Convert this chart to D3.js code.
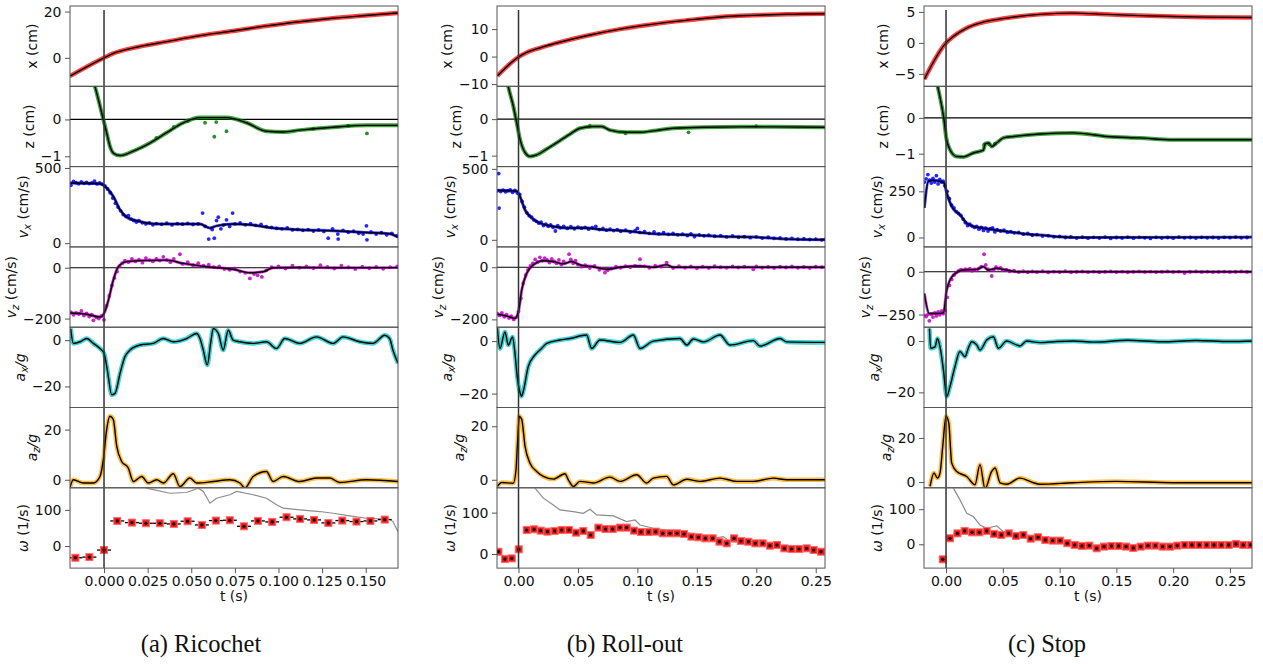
<!DOCTYPE html>
<html>
<head>
<meta charset="utf-8">
<script src="https://cdn.jsdelivr.net/npm/d3@7"></script>
<style>
  body { margin: 0; background: #fff; }
  svg text { font-family: "DejaVu Sans", sans-serif; fill: #111; }
  .caption { font-family: "Liberation Serif", serif; font-size: 24.5px; }
</style>
</head>
<body>
<div id="chart"></div>
<script>
// ---------- data: [t (s), value] ----------

// (a) Ricochet
const ricX = [[-0.0195,-7.9],[0,0],[0.005,1.8],[0.0168,4.3],[0.036,7.0],[0.055,9.6],[0.074,11.6],[0.093,13.8],[0.112,15.6],[0.131,17.1],[0.150,18.3],[0.1685,19.4]];
const ricZ = [[-0.008,1.3],[-0.0052,0.89],[-0.0004,0],[0.0015,-0.36],[0.0034,-0.73],[0.0055,-0.92],[0.0092,-0.98],[0.0168,-0.86],[0.0263,-0.64],[0.0359,-0.36],[0.0454,-0.09],[0.055,0.05],[0.0702,0.05],[0.0817,-0.09],[0.0931,-0.32],[0.1027,-0.34],[0.1122,-0.29],[0.1313,-0.21],[0.1504,-0.16],[0.1685,-0.16]];
const ricZDots = [[0.048,-0.05],[0.0579,-0.09],[0.0632,-0.47],[0.0643,-0.07],[0.0702,-0.32],[0.1507,-0.38],[0.03,-0.5],[0.04,-0.2],[0.12,-0.25],[0.14,-0.17]];
const ricVx = [[-0.0195,400],[-0.0023,395],[0.0015,367],[0.0053,311],[0.0092,222],[0.013,173],[0.0206,144],[0.0282,129],[0.0359,127],[0.055,127],[0.0607,100],[0.0645,115],[0.074,127],[0.0836,122],[0.0969,100],[0.1122,89],[0.1313,82],[0.1504,71],[0.1637,62],[0.1685,40]];
const ricVxDots = [[-0.019,385],[-0.0175,410],[-0.016,402],[-0.0145,395],[-0.013,408],[-0.0115,398],[-0.010,404],[-0.0085,396],[-0.007,401],[-0.0055,412],[-0.004,394],[-0.0025,400],[-0.001,392],[0.0005,380],[0.002,360],[0.0035,335],[0.005,300],[0.0065,265],[0.008,240],[0.0095,215],[0.011,190],[0.0125,178],[0.014,182],[0.0155,160],[0.017,150],[0.0185,140],[0.02,150],[0.022,135],[0.024,128],[0.026,135],[0.028,122],[0.030,130],[0.033,125],[0.036,133],[0.039,121],[0.042,130],[0.045,126],[0.048,132],[0.051,124],[0.054,128],[0.0565,200],[0.058,111],[0.060,27],[0.062,90],[0.0632,33],[0.0645,150],[0.0655,173],[0.067,95],[0.0685,120],[0.0702,155],[0.072,111],[0.0737,200],[0.075,128],[0.078,135],[0.081,122],[0.084,130],[0.087,118],[0.09,125],[0.093,110],[0.096,105],[0.099,98],[0.102,95],[0.105,102],[0.108,88],[0.111,92],[0.114,85],[0.117,90],[0.12,80],[0.123,88],[0.126,78],[0.1285,33],[0.131,95],[0.134,60],[0.1342,27],[0.137,85],[0.14,72],[0.143,80],[0.146,65],[0.1485,60],[0.1504,115],[0.1507,22],[0.153,75],[0.156,60],[0.159,70],[0.162,55],[0.165,65],[0.168,50]];
const ricVz = [[-0.0195,-178],[-0.0099,-183],[-0.0023,-194],[0,-180],[0.0025,-128],[0.0053,-49],[0.0082,4],[0.013,24],[0.0206,28],[0.0359,30],[0.0454,17],[0.0588,4],[0.074,-6],[0.0836,-20],[0.0912,-16],[0.0969,0],[0.1122,1],[0.1313,0],[0.1685,1]];
const ricVzDots = [[-0.019,-175],[-0.0175,-185],[-0.016,-178],[-0.0145,-182],[-0.013,-170],[-0.0115,-188],[-0.01,-180],[-0.0085,-192],[-0.007,-185],[-0.0061,-207],[-0.0045,-195],[-0.003,-200],[-0.0015,-190],[0,-205],[0.0015,-150],[0.003,-110],[0.0045,-70],[0.006,-40],[0.0075,-15],[0.009,5],[0.0105,18],[0.012,28],[0.014,22],[0.016,35],[0.018,25],[0.02,32],[0.022,20],[0.024,38],[0.026,30],[0.028,25],[0.03,35],[0.032,28],[0.034,43],[0.036,30],[0.038,22],[0.04,35],[0.0435,53],[0.045,15],[0.048,22],[0.051,10],[0.054,18],[0.057,8],[0.06,12],[0.063,2],[0.066,5],[0.069,-5],[0.072,-8],[0.075,-3],[0.078,-15],[0.081,-20],[0.0836,-42],[0.086,-25],[0.088,-30],[0.0905,-36],[0.093,-10],[0.096,2],[0.1,5],[0.104,-3],[0.108,8],[0.112,0],[0.116,5],[0.12,-2],[0.124,10],[0.128,3],[0.132,-3],[0.136,8],[0.14,2],[0.144,-5],[0.148,4],[0.152,-2],[0.156,3],[0.16,-4],[0.164,2],[0.168,5]];
const ricAx = [[-0.0191,5],[-0.0176,-1.4],[-0.0137,-0.7],[-0.0099,0.7],[-0.0061,-1.4],[-0.0023,-3.6],[0,-5.7],[0.0019,-12.9],[0.0044,-23.6],[0.0063,-23],[0.0092,-14.3],[0.012,-7.1],[0.0149,-4.3],[0.0206,-2.1],[0.0282,-1.4],[0.034,0.7],[0.0397,-0.7],[0.0473,0.7],[0.0531,2.9],[0.055,0.7],[0.0569,-4.3],[0.0592,-10.7],[0.0611,-1.4],[0.0626,5],[0.0655,2.9],[0.0683,-4.3],[0.0712,4.3],[0.074,0],[0.0779,-0.7],[0.0855,-1.4],[0.0931,-0.7],[0.0989,-3.6],[0.1036,0.7],[0.1122,-1.4],[0.1218,1.4],[0.1313,-1.4],[0.137,1.4],[0.1466,-0.7],[0.1542,-1.4],[0.1609,2.1],[0.1637,0.7],[0.1656,-4.3],[0.1685,-10]];
const ricAz = [[-0.0195,-3],[-0.0176,0],[-0.0118,-1.3],[-0.0061,-1.3],[-0.0023,1.3],[-0.0004,8],[0.0015,20],[0.0034,25.3],[0.0053,24],[0.0073,13.3],[0.0101,7.3],[0.0139,4.7],[0.0168,-0.7],[0.0216,1.3],[0.0254,-1.3],[0.0302,0],[0.034,-1.3],[0.0397,2.4],[0.0435,-2.7],[0.0492,0.7],[0.0531,-1.3],[0.0626,-0.7],[0.0721,0],[0.0779,-1.3],[0.0807,-3.3],[0.0855,1.3],[0.0931,3.3],[0.0969,-0.7],[0.1027,1.3],[0.1122,-0.7],[0.1218,0.7],[0.1294,0.7],[0.1351,-1.1],[0.1504,0],[0.1685,-0.7]];
const ricOm = [[-0.0164,-32.4],[-0.0084,-30.6],[0,-11.1],[0.0076,69.4],[0.016,64.8],[0.024,63],[0.032,63],[0.040,61.1],[0.0479,68.5],[0.0561,58.3],[0.0641,70.4],[0.0721,71.3],[0.0802,54.6],[0.0882,69.4],[0.0964,66.7],[0.1046,79.6],[0.1124,75],[0.1204,72.2],[0.1286,63.9],[0.1366,70.4],[0.1447,67.6],[0.1527,69.4],[0.1609,73.1]];
const ricOmGray = [[0.02,175],[0.0244,160],[0.0378,146],[0.0473,148],[0.054,160],[0.0569,151],[0.0607,118.5],[0.0645,132],[0.0721,141.7],[0.076,151],[0.0855,141.7],[0.0931,132],[0.0989,113.9],[0.1027,104.6],[0.1122,100],[0.1237,95.4],[0.1313,90.7],[0.1408,83.3],[0.1504,76.8],[0.1637,74],[0.1656,67.6],[0.1685,39.8]];

// (b) Roll-out
const rollX = [[-0.0178,-7.0],[0.0002,-0.1],[0.0069,1.5],[0.0153,2.8],[0.0293,4.6],[0.0573,7.6],[0.0854,10],[0.1134,11.8],[0.1415,13.2],[0.1695,14.4],[0.1975,15],[0.2256,15.4],[0.2581,15.6]];
const rollZ = [[-0.011,1.3],[-0.0086,0.89],[-0.0044,0.36],[-0.0016,-0.09],[0.0012,-0.54],[0.0054,-0.91],[0.0097,-1.02],[0.0153,-0.98],[0.0237,-0.82],[0.0349,-0.59],[0.0433,-0.41],[0.0517,-0.25],[0.0629,-0.2],[0.0699,-0.2],[0.0769,-0.3],[0.0909,-0.36],[0.1022,-0.36],[0.1134,-0.32],[0.1302,-0.25],[0.1555,-0.22],[0.1975,-0.21],[0.2581,-0.22]];
const rollZDots = [[0.143,-0.36],[0.06,-0.18],[0.09,-0.39],[0.2,-0.19]];
const rollVx = [[-0.0178,349],[-0.0015,342],[0.0012,306],[0.0054,212],[0.0097,165],[0.0153,129],[0.0293,94],[0.0433,83],[0.0573,83],[0.0713,71],[0.0854,66],[0.1134,42],[0.1415,35],[0.1695,24],[0.1975,19],[0.2256,5],[0.2581,0]];
const rollVxDots = [[-0.0178,345],[-0.0167,467],[-0.0163,224],[-0.015,340],[-0.013,350],[-0.011,338],[-0.009,345],[-0.007,352],[-0.005,335],[-0.003,348],[-0.001,330],[0.001,320],[0.003,270],[0.005,230],[0.007,190],[0.009,170],[0.011,160],[0.013,140],[0.015,130],[0.017,118],[0.019,125],[0.021,100],[0.023,110],[0.025,95],[0.027,105],[0.029,88],[0.031,62],[0.033,100],[0.035,85],[0.038,95],[0.041,80],[0.044,92],[0.047,78],[0.05,90],[0.053,82],[0.056,88],[0.059,75],[0.062,85],[0.065,95],[0.068,72],[0.071,80],[0.074,68],[0.077,75],[0.08,65],[0.083,72],[0.086,60],[0.09,68],[0.094,55],[0.098,65],[0.1,80],[0.102,52],[0.106,58],[0.11,45],[0.114,55],[0.118,42],[0.122,50],[0.126,38],[0.13,45],[0.134,35],[0.138,40],[0.142,30],[0.145,42],[0.148,22],[0.152,35],[0.156,28],[0.16,32],[0.165,25],[0.17,30],[0.175,20],[0.18,28],[0.185,18],[0.19,22],[0.195,15],[0.2,20],[0.205,12],[0.21,18],[0.215,10],[0.22,14],[0.225,6],[0.23,10],[0.235,4],[0.24,8],[0.245,2],[0.25,5],[0.255,0],[0.258,3]];
const rollVz = [[-0.0178,-180],[-0.0100,-187],[-0.0030,-196],[0.0002,-164],[0.0027,-87],[0.0069,-23],[0.0125,9],[0.0209,25],[0.0293,22],[0.0377,13],[0.0447,22],[0.0517,9],[0.0629,2],[0.0741,-8],[0.0854,0],[0.1022,5],[0.1134,0],[0.1246,9],[0.1302,0],[0.2581,0]];
const rollVzDots = [[-0.0178,-178],[-0.016,-185],[-0.014,-175],[-0.012,-190],[-0.01,-182],[-0.008,-195],[-0.006,-188],[-0.004,-200],[-0.002,-192],[0,-170],[0.002,-120],[0.004,-60],[0.006,-30],[0.008,-10],[0.01,5],[0.012,15],[0.014,30],[0.016,20],[0.018,38],[0.02,25],[0.022,35],[0.024,28],[0.026,18],[0.028,32],[0.03,22],[0.032,15],[0.034,28],[0.036,10],[0.038,22],[0.0425,50],[0.044,30],[0.046,15],[0.048,25],[0.05,10],[0.053,2],[0.056,8],[0.06,-3],[0.064,5],[0.068,-10],[0.0727,-21],[0.075,-12],[0.078,-5],[0.082,2],[0.086,-2],[0.09,4],[0.094,0],[0.098,5],[0.1022,31],[0.106,3],[0.11,-2],[0.115,6],[0.12,2],[0.1246,18],[0.13,-3],[0.135,4],[0.14,-2],[0.145,3],[0.15,-4],[0.155,2],[0.16,-3],[0.165,4],[0.17,0],[0.175,-2],[0.18,3],[0.185,-1],[0.19,2],[0.1975,-8],[0.2,3],[0.205,-2],[0.21,1],[0.215,-3],[0.22,2],[0.225,-1],[0.23,3],[0.235,-2],[0.24,1],[0.245,-3],[0.25,2],[0.255,0]];
const rollAx = [[-0.0178,5],[-0.0156,-2.8],[-0.0114,3.5],[-0.0086,-1.5],[-0.005,1.6],[-0.003,-4.6],[-0.0011,-13.5],[0.0012,-19.5],[0.0025,-21],[0.004,-19.1],[0.0082,-9.7],[0.0138,-5.3],[0.0194,-2.8],[0.0237,-0.9],[0.0349,0.4],[0.0433,1],[0.0573,2.3],[0.0615,-2.8],[0.0685,0.4],[0.0854,-0.5],[0.0966,2.3],[0.1022,-2.8],[0.1134,0],[0.1358,1],[0.1415,-1.5],[0.1471,0.8],[0.1555,-0.3],[0.1695,2.3],[0.1779,-1.5],[0.1975,0.2],[0.2031,-1.9],[0.22,1],[0.2256,-0.3],[0.2581,-0.5]];
const rollAz = [[-0.0178,-2.5],[-0.0142,-1],[-0.0044,-1.3],[-0.0021,3.75],[-0.001,12.5],[0.0007,23.7],[0.0027,22.5],[0.0055,12.5],[0.0097,6.2],[0.0153,3.1],[0.0209,1.25],[0.0293,0.25],[0.0391,2.25],[0.0419,0],[0.0461,-2.5],[0.0517,-0.6],[0.0629,-1.2],[0.0769,1],[0.0854,-0.6],[0.0994,1.9],[0.1078,-1.2],[0.1134,0.6],[0.1246,1.25],[0.1302,-1.9],[0.1415,0.2],[0.1527,-0.6],[0.1695,0.6],[0.1835,-0.6],[0.1975,-0.6],[0.2143,0.6],[0.2256,0],[0.2581,0]];
const rollOm = [[-0.0169,5.6],[-0.0114,-12.1],[-0.0057,-10.5],[0.0002,11.3],[0.0069,58.1],[0.0131,59.7],[0.0187,56.5],[0.0243,54.1],[0.0304,55.7],[0.0363,58.1],[0.0425,58.1],[0.0484,51.6],[0.0545,55.7],[0.0607,46],[0.0672,63.8],[0.0731,60.5],[0.0792,60.5],[0.0854,63.8],[0.091,63.8],[0.0972,56.5],[0.1030,53.3],[0.1095,53.3],[0.1154,54.1],[0.1213,50],[0.1274,50],[0.1333,50],[0.1392,48.4],[0.1454,42],[0.1513,40.4],[0.1572,37.9],[0.1633,37.9],[0.169,29.8],[0.1751,25.8],[0.1813,37.9],[0.1871,31.5],[0.1933,29.8],[0.1992,25.8],[0.2054,25.8],[0.2115,20.2],[0.2174,21.8],[0.2236,13.7],[0.2297,12.1],[0.2359,12.1],[0.2424,13.7],[0.2483,9.7],[0.2544,5.6]];
const rollOmGray = [[0.01,180],[0.0139,159],[0.0209,135],[0.0293,118.6],[0.0349,106.5],[0.0461,102.4],[0.0545,98.5],[0.0601,108.2],[0.0657,94.4],[0.0797,92],[0.091,78.2],[0.098,82.3],[0.1022,70.2],[0.1134,62.2],[0.1415,51.6],[0.1638,37.9],[0.1723,42],[0.1779,29.8],[0.1975,25.8],[0.2256,17.7],[0.2581,9.7]];

// (c) Stop
const stopX = [[-0.0191,-5.85],[0,0],[0.0065,1.05],[0.0182,2.4],[0.0299,3.2],[0.0534,4],[0.0827,4.6],[0.112,4.8],[0.1414,4.6],[0.1708,4.4],[0.2001,4.25],[0.2295,4.15],[0.2697,4.1]];
const stopZ = [[-0.01,1.3],[-0.0073,0.87],[-0.0038,0.33],[-0.0018,-0.05],[0,-0.52],[0.0035,-0.89],[0.0094,-1.08],[0.0153,-1.09],[0.024,-0.98],[0.0329,-0.9],[0.0345,-0.72],[0.0375,-0.7],[0.0402,-0.8],[0.0446,-0.7],[0.0505,-0.56],[0.0593,-0.52],[0.0827,-0.45],[0.112,-0.42],[0.1414,-0.52],[0.1708,-0.56],[0.2001,-0.61],[0.2697,-0.61]];
const stopZDots = [[0.0335,-0.75],[0.038,-0.74],[0.043,-0.72]];
const stopVx = [[-0.0191,160],[-0.0156,304],[-0.0112,310],[-0.0053,304],[-0.0018,296],[0.0006,241],[0.005,168],[0.0123,123],[0.0182,78],[0.024,60],[0.0329,51],[0.0417,42],[0.0534,33],[0.0681,20],[0.0827,13],[0.112,0],[0.2697,2]];
const stopVxDots = [[-0.019,300],[-0.0175,318],[-0.016,341],[-0.0145,310],[-0.013,295],[-0.0115,320],[-0.01,300],[-0.0085,335],[-0.007,290],[-0.0055,315],[-0.004,300],[-0.0025,305],[-0.001,280],[0.001,250],[0.003,210],[0.005,175],[0.007,160],[0.009,140],[0.011,130],[0.013,120],[0.015,100],[0.017,80],[0.019,65],[0.021,72],[0.023,62],[0.025,55],[0.027,60],[0.029,45],[0.031,55],[0.033,38],[0.035,50],[0.037,35],[0.039,48],[0.041,52],[0.043,30],[0.045,42],[0.048,35],[0.051,40],[0.054,28],[0.057,32],[0.06,25],[0.064,28],[0.068,18],[0.072,22],[0.076,12],[0.08,16],[0.085,8],[0.09,10],[0.095,4],[0.1,6],[0.105,0],[0.11,3],[0.115,-3],[0.12,2],[0.125,-4],[0.13,1],[0.135,-3],[0.14,2],[0.145,-5],[0.15,0],[0.155,-3],[0.16,2],[0.165,-4],[0.17,1],[0.175,-2],[0.18,-5],[0.185,1],[0.19,-3],[0.195,0],[0.2,-4],[0.205,2],[0.21,-2],[0.215,0],[0.22,-3],[0.225,1],[0.23,-2],[0.235,0],[0.24,-3],[0.245,1],[0.25,-1],[0.255,2],[0.26,-2],[0.265,0]];
const stopVz = [[-0.0191,-127],[-0.0147,-244],[-0.0082,-244],[-0.0023,-240],[0.0006,-107],[0.0065,-19],[0.0153,10],[0.027,14],[0.0329,29],[0.0373,10],[0.0446,20],[0.0534,10],[0.0622,0],[0.2697,0]];
const stopVzDots = [[-0.019,-255],[-0.0175,-262],[-0.016,-250],[-0.0147,-287],[-0.013,-248],[-0.0115,-265],[-0.01,-240],[-0.0085,-258],[-0.007,-235],[-0.0055,-252],[-0.004,-230],[-0.0025,-245],[-0.001,-225],[0.001,-150],[0.003,-80],[0.005,-45],[0.007,-20],[0.009,-5],[0.011,5],[0.013,12],[0.015,8],[0.017,15],[0.019,10],[0.021,18],[0.023,5],[0.025,14],[0.027,8],[0.029,20],[0.031,30],[0.0335,102],[0.035,40],[0.037,15],[0.0402,-25],[0.042,10],[0.044,28],[0.046,18],[0.048,22],[0.05,8],[0.053,12],[0.056,2],[0.06,6],[0.064,-2],[0.068,4],[0.072,-3],[0.076,2],[0.08,-2],[0.085,3],[0.09,-4],[0.095,1],[0.1,-2],[0.105,3],[0.11,-3],[0.115,0],[0.12,2],[0.125,-2],[0.13,1],[0.135,-3],[0.14,0],[0.145,2],[0.15,-2],[0.155,1],[0.16,-3],[0.165,0],[0.17,2],[0.175,-1],[0.18,1],[0.185,-2],[0.19,0],[0.195,2],[0.2,-1],[0.205,1],[0.21,-8],[0.215,0],[0.22,2],[0.225,-1],[0.23,1],[0.235,-2],[0.24,0],[0.245,1],[0.25,-1],[0.255,0],[0.26,2],[0.265,-1]];
const stopAx = [[-0.0146,4.9],[-0.0135,-2.8],[-0.0097,-2.3],[-0.0076,1],[-0.0053,-2.3],[-0.0023,-11.2],[0.0006,-21.6],[0.0035,-17.7],[0.0079,-9.9],[0.0123,-4.1],[0.0167,-6.1],[0.0196,-2.8],[0.0226,-0.3],[0.027,-1.5],[0.0299,-3.5],[0.0358,0.4],[0.0417,1.7],[0.0461,-2.8],[0.0534,0],[0.0651,-1.9],[0.071,0],[0.0827,-0.6],[0.0974,-0.2],[0.112,0],[0.13,-0.4],[0.16,0.3],[0.19,-0.3],[0.22,0.2],[0.25,-0.2],[0.2697,0]];
const stopAz = [[-0.0141,-2],[-0.0106,4.1],[-0.0076,1.8],[-0.0053,4.1],[-0.0029,16.2],[0,29.8],[0.0024,26.8],[0.005,8.6],[0.0094,4.8],[0.0182,2.5],[0.0255,-1.2],[0.0299,7.9],[0.0343,-3],[0.0402,4.8],[0.0432,6.4],[0.0476,-0.4],[0.0534,-1],[0.0651,1.8],[0.0769,-0.3],[0.0827,-1],[0.112,-0.3],[0.15,0.3],[0.2,-0.3],[0.2697,-0.3]];
const stopOm = [[-0.0029,-43],[0.0035,17],[0.0100,31],[0.0164,38],[0.0229,34],[0.0293,34],[0.0358,38],[0.0423,29.5],[0.0487,26.6],[0.0552,31],[0.0616,23.8],[0.0681,26.6],[0.0745,16],[0.081,20],[0.0874,12.3],[0.0939,10.4],[0.1004,10.4],[0.1068,2.9],[0.1133,-2],[0.1197,-4.9],[0.1262,-3.9],[0.1326,-11.5],[0.1391,-6.7],[0.1456,-4.9],[0.152,-4.9],[0.1585,-6.7],[0.1649,-10.6],[0.1714,-6.7],[0.1778,-3.9],[0.1843,-3.9],[0.1907,-6.7],[0.1972,-6.7],[0.2036,-3.9],[0.2101,-2],[0.2165,-2],[0.223,-2],[0.2295,-2],[0.2359,-2],[0.2424,-2],[0.2488,-2],[0.2553,0.9],[0.2617,-2],[0.2682,-2]];
const stopOmGray = [[0.004,180],[0.0065,160],[0.0123,126.6],[0.0182,88.6],[0.024,78.9],[0.0299,55],[0.0358,45.7],[0.0446,52.3],[0.0505,36],[0.0593,31],[0.071,26.6],[0.0827,17],[0.112,2.9],[0.1326,-11.5],[0.1414,-6],[0.2697,-4]];

// tick values
const ricTTicks = [0, 0.025, 0.05, 0.075, 0.1, 0.125, 0.15];
const longTTicks = [0, 0.05, 0.1, 0.15, 0.2, 0.25];
const captions = ["(a) Ricochet", "(b) Roll-out", "(c) Stop"];

// ---------- layout ----------
const width = 1263, height = 664;
const panelTop = 6, panelH = 80.3;
const spineColor = "#555";

const colors = {x: "#ff0000", z: "#008000", vx: "#0000ff", vz: "#bf00bf", ax: "#00bfbf", az: "#ffa500"};

// y labels as pieces: [text, italic, subscript]
const yLabels = [
    [["x (cm)"]],
    [["z (cm)"]],
    [["v", 1], ["x", 1, 1], [" (cm/s)"]],
    [["v", 1], ["z", 1, 1], [" (cm/s)"]],
    [["a", 1], ["x", 1, 1], ["/g", 1]],
    [["a", 1], ["z", 1, 1], ["/g", 1]],
    [["ω", 1], [" (1/s)"]]
];

const columns = [
    {left: 70, right: 398, tDom: [-0.0195, 0.1685], tTicks: ricTTicks, tFmt: d3.format(".3f"), capX: 201, binHalf: 0.004,
     panels: [
        {fit: ricX, color: colors.x, dom: [-12.3, 22.4], ticks: [0, 20], halo: 4.5},
        {fit: ricZ, dots: ricZDots, color: colors.z, dom: [-1.28, 0.9], ticks: [-1, 0], halo: 4, zero: true},
        {fit: ricVx, dots: ricVxDots, color: colors.vx, dom: [-25, 509], ticks: [0, 500], halo: 3},
        {fit: ricVz, dots: ricVzDots, color: colors.vz, dom: [-234, 82], ticks: [-200, 0], halo: 3, zero: true},
        {fit: ricAx, color: colors.ax, dom: [-29.1, 5.6], ticks: [-20, 0], halo: 4.5},
        {fit: ricAz, color: colors.az, dom: [-3.2, 28.8], ticks: [0, 20], halo: 4.5},
        {om: ricOm, gray: ricOmGray, dom: [-61, 161], ticks: [0, 100]}
     ]},
    {left: 497, right: 825, tDom: [-0.0181, 0.2578], tTicks: longTTicks, tFmt: d3.format(".2f"), capX: 625, binHalf: 0.003,
     panels: [
        {fit: rollX, color: colors.x, dom: [-10.8, 18.4], ticks: [-10, 0, 10], halo: 4.5},
        {fit: rollZ, dots: rollZDots, color: colors.z, dom: [-1.3, 0.9], ticks: [-1, 0], halo: 4, zero: true},
        {fit: rollVx, dots: rollVxDots, color: colors.vx, dom: [-50, 516], ticks: [0, 500], halo: 3},
        {fit: rollVz, dots: rollVzDots, color: colors.vz, dom: [-230, 78], ticks: [-200, 0], halo: 3, zero: true},
        {fit: rollAx, color: colors.ax, dom: [-25.3, 5.3], ticks: [-20, 0], halo: 4.5},
        {fit: rollAz, color: colors.az, dom: [-3, 27], ticks: [0, 20], halo: 4.5},
        {om: rollOm, gray: rollOmGray, dom: [-34, 160], ticks: [0, 100]}
     ]},
    {left: 924, right: 1252, tDom: [-0.0194, 0.2694], tTicks: longTTicks, tFmt: d3.format(".2f"), capX: 1047, binHalf: 0.0032,
     panels: [
        {fit: stopX, color: colors.x, dom: [-7, 5.95], ticks: [-5, 0, 5], halo: 4.5},
        {fit: stopZ, dots: stopZDots, color: colors.z, dom: [-1.36, 0.88], ticks: [-1, 0], halo: 4, zero: true},
        {fit: stopVx, dots: stopVxDots, color: colors.vx, dom: [-51, 384], ticks: [0, 250], halo: 3},
        {fit: stopVz, dots: stopVzDots, color: colors.vz, dom: [-324, 145], ticks: [-250, 0], halo: 3, zero: true},
        {fit: stopAx, color: colors.ax, dom: [-25.9, 5.4], ticks: [-20, 0], halo: 4.5},
        {fit: stopAz, color: colors.az, dom: [-2.6, 33.8], ticks: [0, 20], halo: 4.5},
        {om: stopOm, gray: stopOmGray, dom: [-68, 161], ticks: [0, 100]}
     ]}
];

const svg = d3.select("#chart").append("svg")
    .attr("width", width)
    .attr("height", height);

let clipId = 0;

columns.forEach((col, ci) => {
    const w = col.right - col.left;
    const x = d3.scaleLinear().domain(col.tDom).range([0, w]);

    col.panels.forEach((p, pi) => {
        const top = panelTop + pi * panelH;
        const h = panelH;
        const y = d3.scaleLinear().domain(p.dom).range([h, 0]);

        const g = svg.append("g").attr("transform", `translate(${col.left},${top})`);

        const cid = "clip" + (clipId++);
        g.append("clipPath").attr("id", cid)
            .append("rect").attr("width", w).attr("height", h);
        const plot = g.append("g").attr("clip-path", `url(#${cid})`);

        const line = d3.line().x(d => x(d[0])).y(d => y(d[1])).curve(d3.curveMonotoneX);

        if (p.zero) {
            plot.append("line")
                .attr("x1", 0).attr("x2", w)
                .attr("y1", y(0)).attr("y2", y(0))
                .attr("stroke", "#000").attr("stroke-width", 1.2);
        }

        if (p.om) {
            // gray reference curve
            plot.append("path")
                .datum(p.gray)
                .attr("fill", "none")
                .attr("stroke", "#8c8c8c")
                .attr("stroke-width", 1.2)
                .attr("d", d3.line().x(d => x(d[0])).y(d => y(d[1])));

            // horizontal error bars
            plot.selectAll(".err").data(p.om).enter().append("line")
                .attr("x1", d => x(d[0] - col.binHalf))
                .attr("x2", d => x(d[0] + col.binHalf))
                .attr("y1", d => y(d[1])).attr("y2", d => y(d[1]))
                .attr("stroke", "#000").attr("stroke-width", 1.3);

            plot.selectAll(".sq").data(p.om).enter().append("rect")
                .attr("x", d => x(d[0]) - 3.5)
                .attr("y", d => y(d[1]) - 3.5)
                .attr("width", 7).attr("height", 7)
                .attr("fill", "#f01818")
                .attr("stroke", "#ff6a6a")
                .attr("stroke-width", 1);

            plot.selectAll(".ctr").data(p.om).enter().append("circle")
                .attr("cx", d => x(d[0]))
                .attr("cy", d => y(d[1]))
                .attr("r", 1.6)
                .attr("fill", "#000");
        } else {
            // dense measured points shown as a band along the fit
            plot.append("path")
                .datum(p.fit)
                .attr("fill", "none")
                .attr("stroke", p.color)
                .attr("stroke-opacity", 0.75)
                .attr("stroke-width", p.halo)
                .attr("stroke-linejoin", "round")
                .attr("d", line);

            if (p.dots) {
                plot.selectAll(".dot").data(p.dots).enter().append("circle")
                    .attr("cx", d => x(d[0]))
                    .attr("cy", d => y(d[1]))
                    .attr("r", 1.9)
                    .attr("fill", p.color)
                    .attr("fill-opacity", 0.85);
            }

            plot.append("path")
                .datum(p.fit)
                .attr("fill", "none")
                .attr("stroke", "#000")
                .attr("stroke-width", 1.4)
                .attr("d", line);
        }

        // impact time marker
        g.append("line")
            .attr("x1", x(0)).attr("x2", x(0))
            .attr("y1", pi === 0 ? 4 : 0).attr("y2", h)
            .attr("stroke", "#333").attr("stroke-width", 1.5);

        // frame
        g.append("rect")
            .attr("width", w).attr("height", h)
            .attr("fill", "none")
            .attr("stroke", spineColor)
            .attr("stroke-width", 1);

        // y axis
        const yg = g.append("g")
            .call(d3.axisLeft(y).tickValues(p.ticks).tickSize(5).tickPadding(3.5).tickFormat(d3.format("d")));
        yg.select(".domain").remove();
        yg.selectAll(".tick line").attr("stroke", spineColor);
        yg.selectAll("text").style("font-size", "14px").style("font-family", "DejaVu Sans").attr("fill", "#111");

        const bb = yg.node().getBBox();
        const lab = g.append("text")
            .attr("transform", `translate(${bb.x - 7},${h / 2}) rotate(-90)`)
            .attr("text-anchor", "middle")
            .style("font-size", "14px");
        yLabels[pi].forEach((piece, k) => {
            const ts = lab.append("tspan").text(piece[0]);
            if (piece[1]) ts.style("font-style", "italic");
            if (piece[2]) {
                ts.attr("dy", 3).style("font-size", "10px");
            } else if (k > 0 && yLabels[pi][k - 1][2]) {
                ts.attr("dy", -3);
            }
        });

        // bottom axis only on the last panel
        if (pi === col.panels.length - 1) {
            const xg = g.append("g")
                .attr("transform", `translate(0,${h})`)
                .call(d3.axisBottom(x).tickValues(col.tTicks).tickFormat(col.tFmt).tickSize(5).tickPadding(3));
            xg.select(".domain").remove();
            xg.selectAll(".tick line").attr("stroke", spineColor);
            xg.selectAll("text").style("font-size", "14px").style("font-family", "DejaVu Sans").attr("fill", "#111");

            g.append("text")
                .attr("x", w / 2)
                .attr("y", h + 33)
                .attr("text-anchor", "middle")
                .style("font-size", "14px")
                .text("t (s)");
        }
    });

    svg.append("text")
        .attr("class", "caption")
        .attr("x", col.capX)
        .attr("y", 652)
        .attr("text-anchor", "middle")
        .text(captions[ci]);
});
</script>
</body>
</html>
